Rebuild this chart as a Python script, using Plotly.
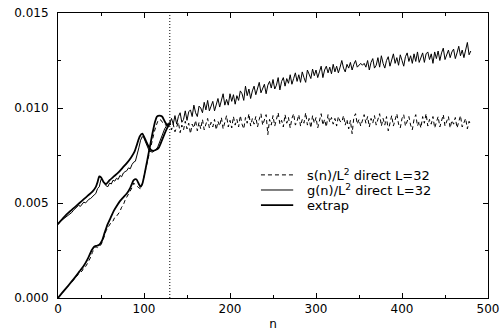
import plotly.graph_objects as go

# ---------------- data ----------------
# direct measurements sampled every 2 steps, n = 0..480
n_direct = list(range(0, 481, 2))

# s(n)/L^2 direct L=32  (dashed)
s_direct = [
    0.00000, 0.00010, 0.00020, 0.00032, 0.00040, 0.00055, 0.00064, 0.00072, 0.00084, 0.00095,
    0.00108, 0.00115, 0.00128, 0.00135, 0.00142, 0.00160, 0.00165, 0.00180, 0.00195, 0.00215,
    0.00240, 0.00260, 0.00270, 0.00265, 0.00275, 0.00280, 0.00300, 0.00330, 0.00355, 0.00370,
    0.00385, 0.00400, 0.00405, 0.00425, 0.00430, 0.00445, 0.00455, 0.00478, 0.00490, 0.00515,
    0.00530, 0.00545, 0.00565, 0.00580, 0.00605, 0.00595, 0.00590, 0.00580, 0.00575, 0.00600,
    0.00640, 0.00680, 0.00725, 0.00750, 0.00800, 0.00835, 0.00875, 0.00905, 0.00930, 0.00940,
    0.00935, 0.00920, 0.00915, 0.00908, 0.00920,
    0.00930, 0.00885, 0.00915, 0.00875, 0.00905,   # n=130
    0.00925, 0.00870, 0.00910, 0.00885, 0.00930,   # n=140
    0.00890, 0.00920, 0.00865, 0.00915, 0.00895,   # n=150
    0.00935, 0.00880, 0.00925, 0.00890, 0.00940,   # n=160
    0.00885, 0.00910, 0.00945, 0.00895, 0.00925,   # n=170
    0.00900, 0.00940, 0.00885, 0.00930, 0.00905,   # n=180
    0.00950, 0.00890, 0.00925, 0.00960, 0.00900,   # n=190
    0.00935, 0.00895, 0.00955, 0.00910, 0.00940,   # n=200
    0.00900, 0.00960, 0.00915, 0.00890, 0.00950,   # n=210
    0.00920, 0.00970, 0.00905, 0.00945, 0.00915,   # n=220
    0.00955, 0.00900, 0.00940, 0.00970, 0.00910,   # n=230
    0.00935, 0.00965, 0.00860, 0.00940, 0.00910,   # n=240
    0.00960, 0.00905, 0.00945, 0.00975, 0.00915,   # n=250
    0.00935, 0.00900, 0.00965, 0.00920, 0.00950,   # n=260
    0.00895, 0.00945, 0.00970, 0.00910, 0.00930,   # n=270
    0.00965, 0.00905, 0.00940, 0.00920, 0.00975,   # n=280
    0.00910, 0.00945, 0.00895, 0.00960, 0.00920,   # n=290
    0.00950, 0.00895, 0.00935, 0.00970, 0.00910,   # n=300
    0.00940, 0.00900, 0.00965, 0.00925, 0.00950,   # n=310
    0.00915, 0.00945, 0.00905, 0.00955, 0.00930,   # n=320
    0.00925, 0.00960, 0.00910, 0.00940, 0.00890,   # n=330
    0.00935, 0.00865, 0.00950, 0.00970, 0.00915,   # n=340
    0.00940, 0.00905, 0.00930, 0.00965, 0.00920,   # n=350
    0.00955, 0.00900, 0.00945, 0.00920, 0.00960,   # n=360
    0.00910, 0.00935, 0.00970, 0.00905, 0.00945,   # n=370
    0.00910, 0.00955, 0.00880, 0.00930, 0.00960,   # n=380
    0.00905, 0.00940, 0.00970, 0.00915, 0.00895,   # n=390
    0.00945, 0.00965, 0.00905, 0.00935, 0.00955,   # n=400
    0.00910, 0.00885, 0.00940, 0.00965, 0.00905,   # n=410
    0.00930, 0.00895, 0.00955, 0.00920, 0.00970,   # n=420
    0.00905, 0.00940, 0.00915, 0.00955, 0.00895,   # n=430
    0.00925, 0.00955, 0.00900, 0.00940, 0.00965,   # n=440
    0.00905, 0.00930, 0.00955, 0.00895, 0.00935,   # n=450
    0.00915, 0.00950, 0.00895, 0.00930, 0.00960,   # n=460
    0.00900, 0.00925, 0.00945, 0.00890, 0.00930,   # n=470
    0.00910,                                       # n=480
]

# g(n)/L^2 direct L=32  (thin solid)
g_direct = [
    0.00385, 0.00402, 0.00408, 0.00415, 0.00426, 0.00430, 0.00438, 0.00445, 0.00450, 0.00462,
    0.00470, 0.00475, 0.00488, 0.00482, 0.00496, 0.00505, 0.00500, 0.00512, 0.00520, 0.00524,
    0.00535, 0.00542, 0.00550, 0.00576, 0.00585, 0.00625, 0.00618, 0.00602, 0.00590, 0.00586,
    0.00605, 0.00600, 0.00620, 0.00615, 0.00630, 0.00624, 0.00645, 0.00638, 0.00658, 0.00665,
    0.00670, 0.00685, 0.00680, 0.00702, 0.00715, 0.00720, 0.00750, 0.00790, 0.00830, 0.00850,
    0.00840, 0.00815, 0.00790, 0.00775, 0.00770, 0.00768, 0.00775, 0.00780, 0.00795, 0.00820,
    0.00840, 0.00865, 0.00890, 0.00905, 0.00920,
    0.00920, 0.00945, 0.00915, 0.00960, 0.00915,   # n=130
    0.00955, 0.00975, 0.00925, 0.00940, 0.00985,   # n=140
    0.00935, 0.00980, 0.00990, 0.00955, 0.01015,   # n=150
    0.00975, 0.00955, 0.01010, 0.01000, 0.00975,   # n=160
    0.01030, 0.00990, 0.01040, 0.00985, 0.01010,   # n=170
    0.01035, 0.00985, 0.01025, 0.01050, 0.01005,   # n=180
    0.01040, 0.01075, 0.01015, 0.01045, 0.01015,   # n=190
    0.01075, 0.01035, 0.01070, 0.01020, 0.01065,   # n=200
    0.01040, 0.01090, 0.01075, 0.01040, 0.01115,   # n=210
    0.01065, 0.01100, 0.01050, 0.01090, 0.01115,   # n=220
    0.01070, 0.01105, 0.01135, 0.01080, 0.01105,   # n=230
    0.01125, 0.01075, 0.01120, 0.01140, 0.01105,   # n=240
    0.01150, 0.01100, 0.01120, 0.01160, 0.01095,   # n=250
    0.01140, 0.01160, 0.01115, 0.01155, 0.01130,   # n=260
    0.01175, 0.01125, 0.01155, 0.01185, 0.01140,   # n=270
    0.01175, 0.01135, 0.01190, 0.01160, 0.01135,   # n=280
    0.01200, 0.01180, 0.01155, 0.01205, 0.01170,   # n=290
    0.01200, 0.01160, 0.01190, 0.01220, 0.01160,   # n=300
    0.01200, 0.01220, 0.01185, 0.01215, 0.01180,   # n=310
    0.01230, 0.01190, 0.01220, 0.01185, 0.01215,   # n=320
    0.01250, 0.01210, 0.01190, 0.01230, 0.01210,   # n=330
    0.01240, 0.01200, 0.01230, 0.01250, 0.01215,   # n=340
    0.01225, 0.01235, 0.01225, 0.01235, 0.01215,   # n=350
    0.01250, 0.01200, 0.01240, 0.01260, 0.01210,   # n=360
    0.01225, 0.01265, 0.01215, 0.01275, 0.01235,   # n=370
    0.01210, 0.01250, 0.01270, 0.01220, 0.01255,   # n=380
    0.01285, 0.01235, 0.01265, 0.01225, 0.01280,   # n=390
    0.01250, 0.01220, 0.01270, 0.01290, 0.01245,   # n=400
    0.01275, 0.01235, 0.01285, 0.01245, 0.01295,   # n=410
    0.01240, 0.01270, 0.01290, 0.01240, 0.01285,   # n=420
    0.01295, 0.01255, 0.01285, 0.01235, 0.01295,   # n=430
    0.01260, 0.01300, 0.01250, 0.01290, 0.01315,   # n=440
    0.01255, 0.01285, 0.01305, 0.01265, 0.01295,   # n=450
    0.01310, 0.01260, 0.01290, 0.01325, 0.01275,   # n=460
    0.01305, 0.01265, 0.01315, 0.01345, 0.01280,   # n=470
    0.01300,                                       # n=480
]

# extrapolated curves (thick solid), n = 0..130
n_extrap_s = [0, 5, 10, 15, 20, 25, 30, 35, 39, 42, 45, 48, 51, 54, 57, 61, 65, 69, 72, 76,
              80, 84, 88, 91, 94, 96, 98, 101, 104, 107, 110, 113, 115, 118, 121, 124, 127, 130]
s_extrap = [0.00000, 0.00028, 0.00055, 0.00082, 0.00110, 0.00140, 0.00170, 0.00210, 0.00250,
            0.00270, 0.00275, 0.00280, 0.00300, 0.00340, 0.00380, 0.00420, 0.00460, 0.00490,
            0.00510, 0.00530, 0.00550, 0.00580, 0.00620, 0.00625, 0.00600, 0.00585, 0.00600,
            0.00660, 0.00730, 0.00800, 0.00870, 0.00930, 0.00955, 0.00960, 0.00955, 0.00930,
            0.00910, 0.00915]

n_extrap_g = [0, 5, 10, 15, 20, 25, 30, 35, 40, 44, 46, 48, 50, 53, 56, 60, 65, 70, 75, 80,
              85, 89, 92, 95, 98, 101, 104, 107, 110, 114, 117, 120, 124, 127, 130]
g_extrap = [0.00390, 0.00415, 0.00440, 0.00460, 0.00480, 0.00500, 0.00520, 0.00540, 0.00560,
            0.00585, 0.00610, 0.00640, 0.00635, 0.00610, 0.00600, 0.00620, 0.00640, 0.00660,
            0.00685, 0.00710, 0.00740, 0.00770, 0.00810, 0.00850, 0.00865, 0.00840, 0.00810,
            0.00785, 0.00775, 0.00780, 0.00790, 0.00820, 0.00865, 0.00895, 0.00920]

n_marker = 130          # vertical dotted line
x_ticks = [0, 100, 200, 300, 400, 500]
y_ticks = [0.000, 0.005, 0.010, 0.015]
y_tick_labels = ["0.000", "0.005", "0.010", "0.015"]
legend_labels = ["s(n)/L<sup>2</sup> direct L=32", "g(n)/L<sup>2</sup> direct L=32", "extrap"]

# ---------------- figure ----------------
FONT = "DejaVu Sans"
fig = go.Figure()

DASH_S = "4px,3px"
fig.add_trace(go.Scatter(
    x=n_direct, y=s_direct, mode="lines",
    line=dict(color="black", width=1, dash=DASH_S), name=legend_labels[0]))
fig.add_trace(go.Scatter(
    x=n_direct, y=g_direct, mode="lines",
    line=dict(color="black", width=1), name=legend_labels[1]))
fig.add_trace(go.Scatter(
    x=n_extrap_s, y=s_extrap, mode="lines",
    line=dict(color="black", width=1.8, shape="spline", smoothing=0.6), name=legend_labels[2]))
fig.add_trace(go.Scatter(
    x=n_extrap_g, y=g_extrap, mode="lines",
    line=dict(color="black", width=1.8, shape="spline", smoothing=0.6), name=legend_labels[2]))

fig.add_shape(type="line", xref="x", yref="paper", x0=n_marker, x1=n_marker, y0=0, y1=1,
              line=dict(color="black", width=1, dash="1px,2px"))

# hand-placed legend (paper coordinates)
leg_x0, leg_x1, leg_tx = 0.472, 0.547, 0.574
leg_rows = [0.432, 0.379, 0.326]
leg_styles = [dict(width=1, dash=DASH_S), dict(width=1), dict(width=1.8)]
for lab, yy, st in zip(legend_labels, leg_rows, leg_styles):
    fig.add_shape(type="line", xref="paper", yref="paper", x0=leg_x0, x1=leg_x1, y0=yy, y1=yy,
                  line=dict(color="black", **st))
    fig.add_annotation(xref="paper", yref="paper", x=leg_tx, y=yy, text=lab, showarrow=False,
                       xanchor="left", yanchor="middle",
                       font=dict(family=FONT, size=13, color="black"))

axis_common = dict(
    showline=True, linecolor="black", linewidth=1, mirror="ticks",
    ticks="inside", ticklen=5, tickcolor="black", tickwidth=1,
    showgrid=False, zeroline=False, automargin=False, ticklabeloverflow="allow",
    tickfont=dict(family=FONT, size=12, color="black"),
)

fig.update_xaxes(
    range=[0, 500], tickvals=x_ticks,
    minor=dict(ticks="inside", ticklen=3, tickcolor="black", dtick=50, tick0=0, showgrid=False),
    title=dict(text="n", font=dict(family=FONT, size=12, color="black"), standoff=4),
    **axis_common)
fig.update_yaxes(
    range=[0, 0.015], tickvals=y_ticks, ticktext=y_tick_labels, ticklabelstandoff=6,
    minor=dict(ticks="inside", ticklen=3, tickcolor="black", dtick=0.0025, tick0=0, showgrid=False),
    **axis_common)

fig.update_layout(
    width=500, height=331,
    margin=dict(l=58, r=12, t=13, b=33),
    paper_bgcolor="white", plot_bgcolor="white",
    font=dict(family=FONT, size=12, color="black"),
    showlegend=False,
)

# remove the page's default 8 px body margin so the figure fills the window exactly;
# hide the interactive mode bar
fig.write_html("out.html", config={"displayModeBar": False},
               post_script="document.body.style.margin='0';")
